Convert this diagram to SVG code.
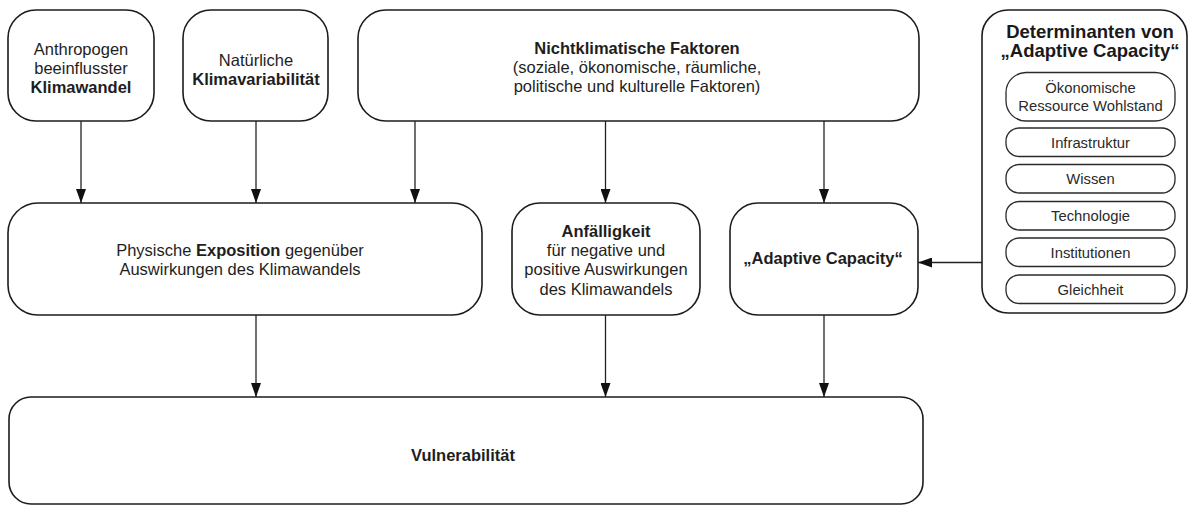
<svg xmlns="http://www.w3.org/2000/svg" width="1190" height="506" viewBox="0 0 1190 506">
  <style>
    .box { fill: #ffffff; stroke: #1c1c1c; stroke-width: 1.6; }
    .sub { fill: #ffffff; stroke: #2a2a2a; stroke-width: 1.3; }
    .t { font-family: "Liberation Sans", Arial, sans-serif; font-size: 16.5px; fill: #1e1e1e; text-anchor: middle; }
    .s { font-family: "Liberation Sans", Arial, sans-serif; font-size: 14.8px; fill: #2a2a2a; text-anchor: middle; }
    .b { font-weight: bold; }
    .title { font-family: "Liberation Sans", Arial, sans-serif; font-size: 18.5px; font-weight: bold; fill: #1a1a1a; text-anchor: middle; }
    .conn line { stroke: #222222; stroke-width: 1.3; fill: none; }
  </style>
  <defs>
    <marker id="arrow" viewBox="0 0 14 10" refX="14" refY="5" markerWidth="14" markerHeight="10" markerUnits="userSpaceOnUse" orient="auto">
      <path d="M0,0 L14,5 L0,10 Z" fill="#111111"/>
    </marker>
  </defs>

  <rect width="1190" height="506" fill="#ffffff"/>

  <!-- Drivers -->
  <g id="anthropogen">
    <rect class="box" x="8" y="10" width="146" height="111" rx="28"/>
    <text class="t" x="81" y="54.5">Anthropogen</text>
    <text class="t" x="81" y="73.5">beeinflusster</text>
    <text class="t b" x="81" y="92.5">Klimawandel</text>
  </g>

  <g id="natuerlich">
    <rect class="box" x="183" y="10" width="145" height="111" rx="28"/>
    <text class="t" x="256" y="65.5">Natürliche</text>
    <text class="t b" x="256" y="84.5">Klimavariabilität</text>
  </g>

  <g id="nichtklimatisch">
    <rect class="box" x="358" y="10" width="561" height="111" rx="28"/>
    <text class="t b" x="637" y="54">Nichtklimatische Faktoren</text>
    <text class="t" x="637" y="73">(soziale, ökonomische, räumliche,</text>
    <text class="t" x="637" y="92">politische und kulturelle Faktoren)</text>
  </g>

  <!-- Determinants of adaptive capacity -->
  <g id="determinanten">
    <rect class="box" x="982" y="10" width="205" height="303" rx="26"/>
    <text class="title" x="1090" y="37.5">Determinanten von</text>
    <text class="title" x="1090" y="56.5">„Adaptive Capacity“</text>
    <g id="det-oekonomisch">
      <rect class="sub" x="1006" y="72.5" width="169" height="48.5" rx="20"/>
      <text class="s" x="1090.5" y="93">Ökonomische</text>
      <text class="s" x="1090.5" y="110.5">Ressource Wohlstand</text>
    </g>
    <g id="det-infrastruktur">
      <rect class="sub" x="1006" y="128" width="169" height="28.5" rx="13"/>
      <text class="s" x="1090.5" y="147.5">Infrastruktur</text>
    </g>
    <g id="det-wissen">
      <rect class="sub" x="1006" y="164.5" width="169" height="28.5" rx="13"/>
      <text class="s" x="1090.5" y="184">Wissen</text>
    </g>
    <g id="det-technologie">
      <rect class="sub" x="1006" y="201.5" width="169" height="28.5" rx="13"/>
      <text class="s" x="1090.5" y="221">Technologie</text>
    </g>
    <g id="det-institutionen">
      <rect class="sub" x="1006" y="238" width="169" height="28.5" rx="13"/>
      <text class="s" x="1090.5" y="257.5">Institutionen</text>
    </g>
    <g id="det-gleichheit">
      <rect class="sub" x="1006" y="275" width="169" height="28.5" rx="13"/>
      <text class="s" x="1090.5" y="294.5">Gleichheit</text>
    </g>
  </g>

  <!-- Components -->
  <g id="exposition">
    <rect class="box" x="8" y="203" width="474" height="112" rx="30"/>
    <text class="t" x="240" y="256"><tspan>Physische </tspan><tspan class="b">Exposition</tspan><tspan> gegenüber</tspan></text>
    <text class="t" x="240" y="275">Auswirkungen des Klimawandels</text>
  </g>

  <g id="anfaelligkeit">
    <rect class="box" x="512" y="203" width="188" height="112" rx="28"/>
    <text class="t b" x="606" y="236.5">Anfälligkeit</text>
    <text class="t" x="606" y="255.5">für negative und</text>
    <text class="t" x="606" y="275">positive Auswirkungen</text>
    <text class="t" x="606" y="294.5">des Klimawandels</text>
  </g>

  <g id="adaptive-capacity">
    <rect class="box" x="730" y="203" width="188" height="112" rx="28"/>
    <text class="t b" x="823" y="263.5">„Adaptive Capacity“</text>
  </g>

  <!-- Outcome -->
  <g id="vulnerabilitaet">
    <rect class="box" x="9" y="397" width="914" height="107" rx="22"/>
    <text class="t b" x="463" y="461">Vulnerabilität</text>
  </g>

  <!-- Connectors -->
  <g id="connectors" class="conn">
    <line x1="81" y1="121" x2="81" y2="203" marker-end="url(#arrow)"/>
    <line x1="256" y1="121" x2="256" y2="203" marker-end="url(#arrow)"/>
    <line x1="415" y1="121" x2="415" y2="203" marker-end="url(#arrow)"/>
    <line x1="605.5" y1="121" x2="605.5" y2="203" marker-end="url(#arrow)"/>
    <line x1="824" y1="121" x2="824" y2="203" marker-end="url(#arrow)"/>
    <line x1="982" y1="262.5" x2="918" y2="262.5" marker-end="url(#arrow)"/>
    <line x1="256" y1="315" x2="256" y2="397" marker-end="url(#arrow)"/>
    <line x1="605.5" y1="315" x2="605.5" y2="397" marker-end="url(#arrow)"/>
    <line x1="824" y1="315" x2="824" y2="397" marker-end="url(#arrow)"/>
  </g>
</svg>
